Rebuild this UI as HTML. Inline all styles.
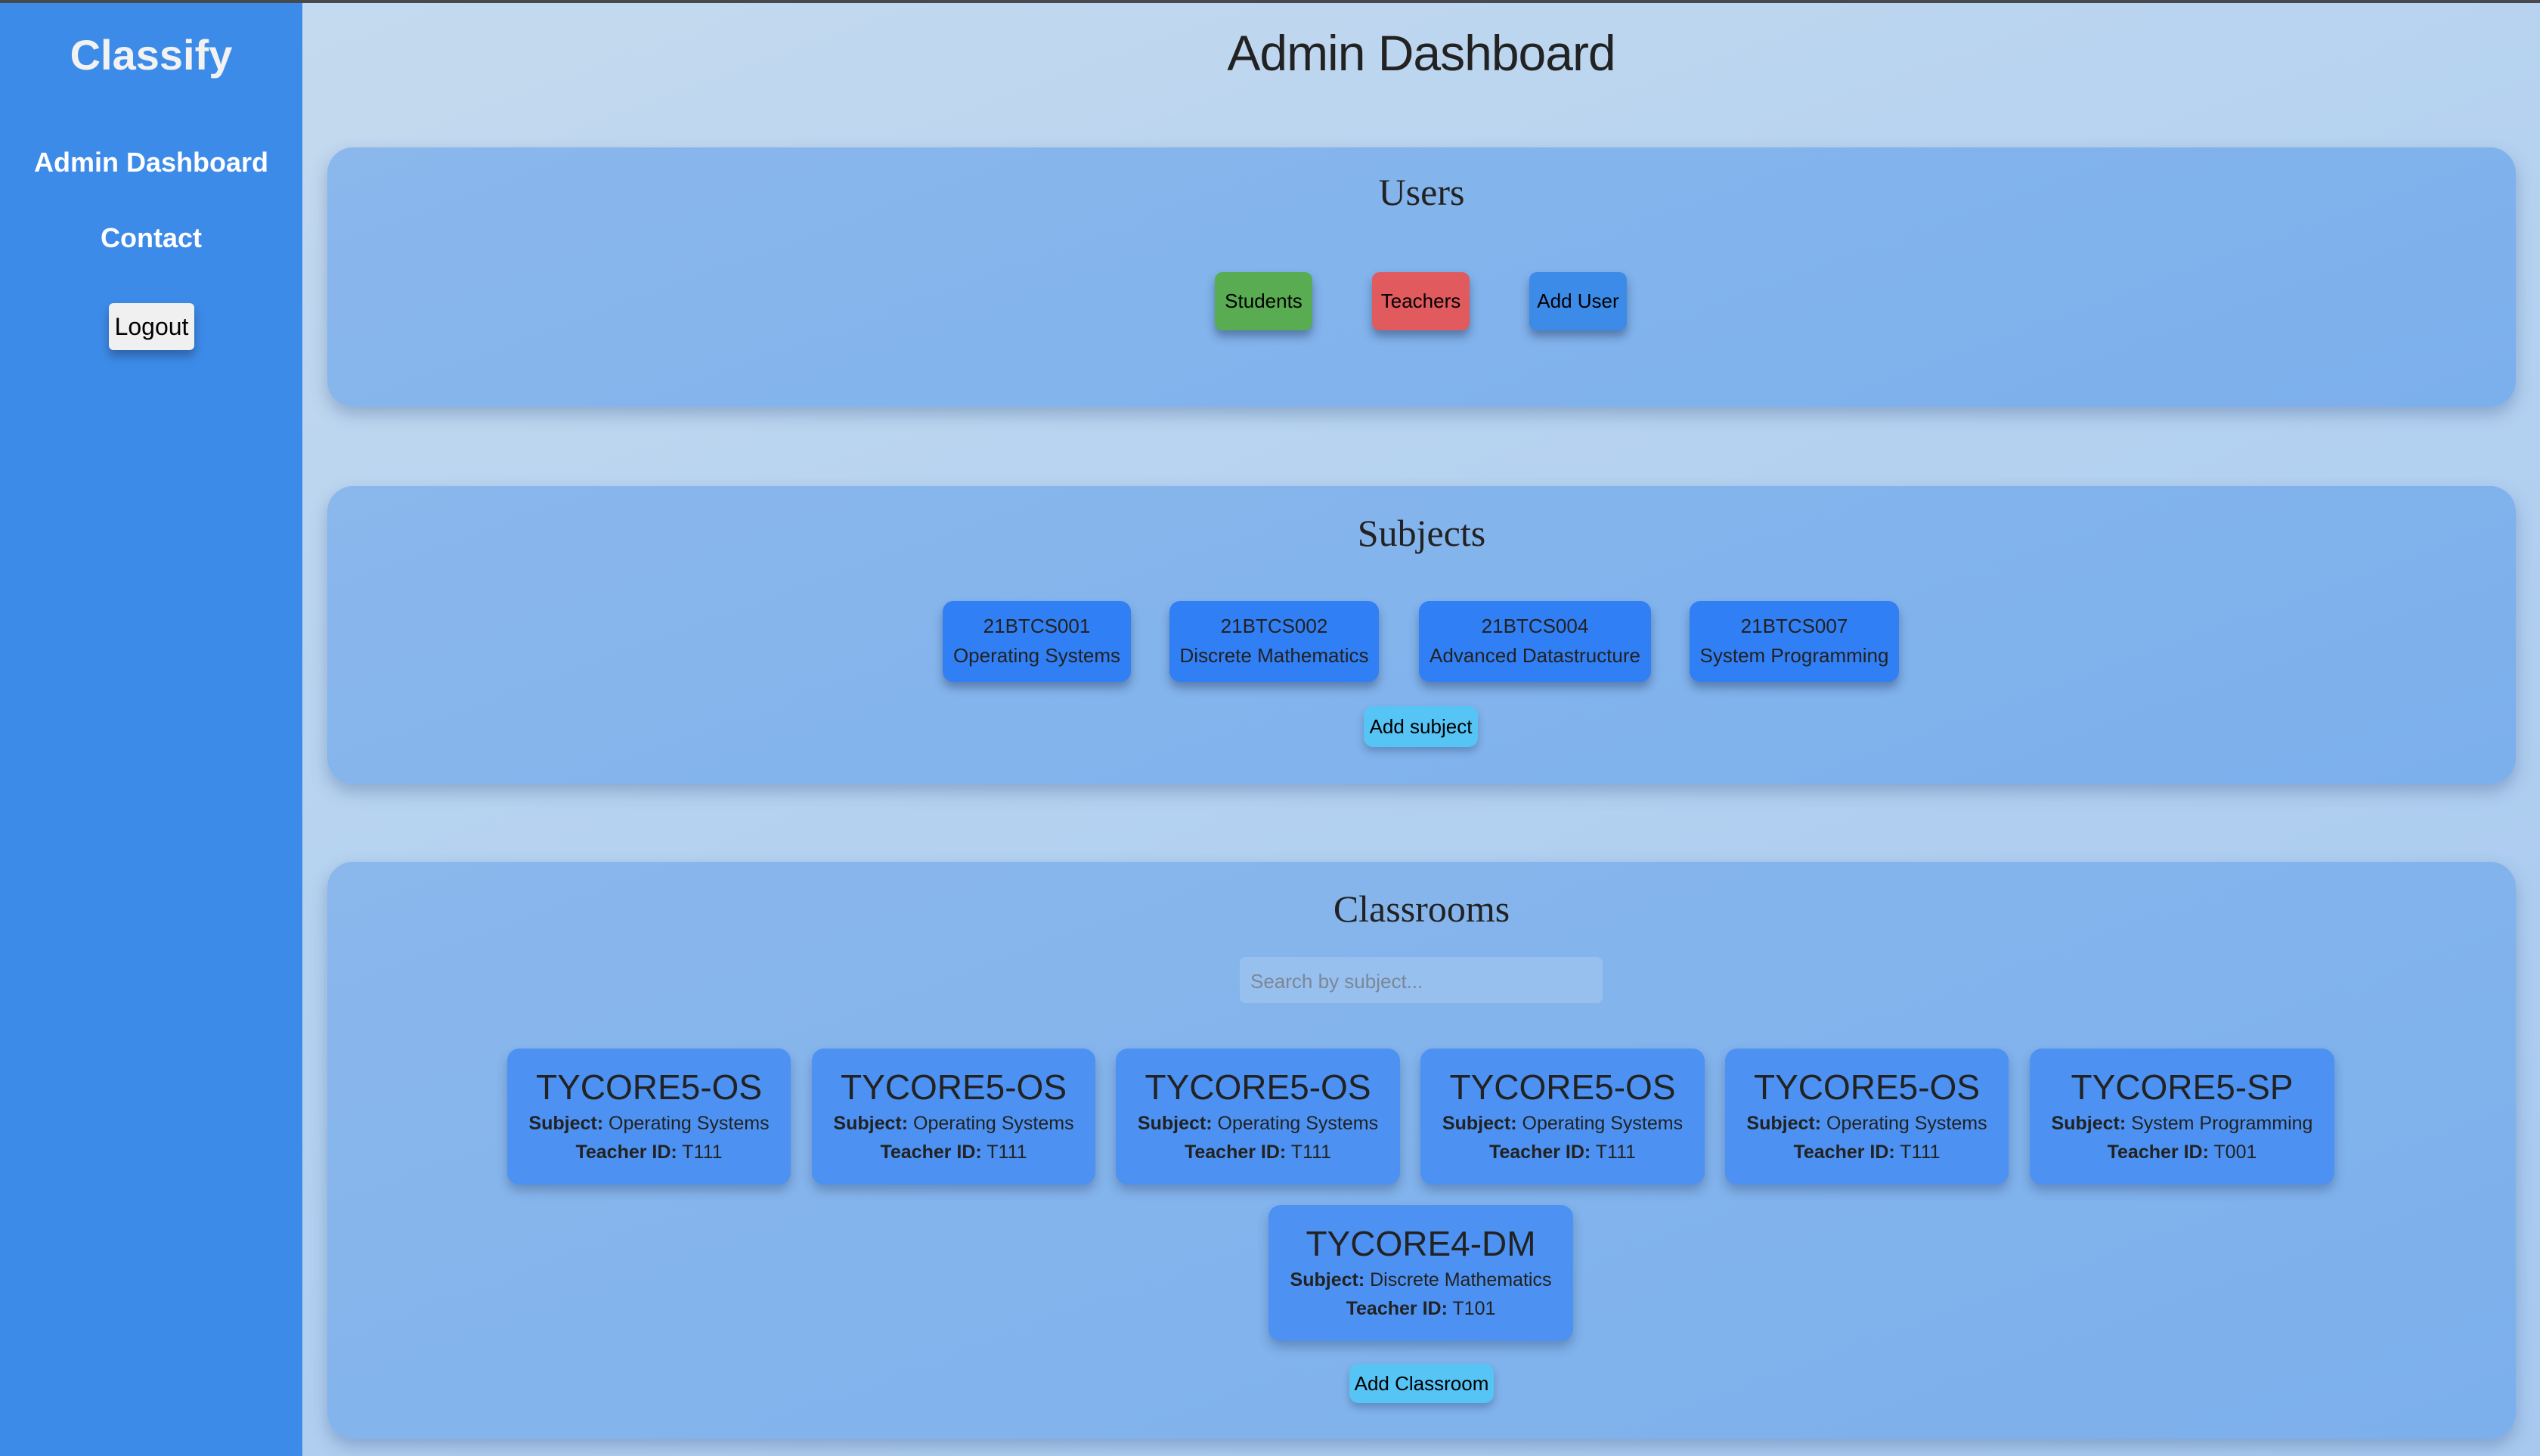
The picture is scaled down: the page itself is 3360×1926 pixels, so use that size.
<!DOCTYPE html>
<html><head><meta charset="utf-8"><style>
*{margin:0;padding:0;box-sizing:border-box}
body{width:3360px;height:1926px;position:relative;overflow:hidden;font-family:"Liberation Sans",Arial,sans-serif;background:linear-gradient(160deg,#c6dbee 0%,#b5d2f0 45%,#a7c9f0 100%)}
.a{position:absolute}
.c{text-align:center}
#top{left:0;top:0;width:3360px;height:4px;background:#464a4f}
#side{left:0;top:4px;width:400px;height:1922px;background:#3d8be8}
.panel{left:433px;width:2895px;border-radius:34px;background:linear-gradient(160deg,#8ab7ec,#7cb0ec);box-shadow:0 10px 22px rgba(60,90,140,.35)}
.ptitle{left:0;width:100%;font-family:"Liberation Serif",serif;font-size:50px;color:#222}
.btn{border-radius:10px;box-shadow:0 8px 12px rgba(30,50,90,.45);color:#000;font-size:26px;display:flex;align-items:center;justify-content:center}
.sub{background:#317ff5;border-radius:14px;box-shadow:0 8px 12px rgba(30,50,90,.4);color:#222;font-size:26px;line-height:39px;padding-top:14px;text-align:center}
.cls{background:#4d92f2;border-radius:16px;box-shadow:0 8px 14px rgba(30,50,90,.3);color:#222;text-align:center;height:180px}
.cls .t{font-size:46px;margin-top:26px;line-height:50px;margin-bottom:4px}
.cls .l{font-size:25px;line-height:38px}
.cls b{font-weight:bold}
</style></head><body>
<div id="top" class="a"></div>
<div id="side" class="a"></div>
<div class="a c" style="left:0;width:400px;top:40px;font-size:56px;font-weight:bold;color:#f2f2f2;">Classify</div>
<div class="a c" style="left:0;width:400px;top:194px;font-size:36px;font-weight:bold;color:#fff;">Admin Dashboard</div>
<div class="a c" style="left:0;width:400px;top:294px;font-size:36px;font-weight:bold;color:#fff;">Contact</div>
<div class="a btn" style="left:144px;top:401px;width:113px;height:62px;background:#f0f0f0;font-size:32px;border-radius:6px">Logout</div>

<div class="a c" style="left:1560px;width:640px;top:32px;font-size:66px;color:#222;letter-spacing:-1px">Admin Dashboard</div>

<div class="a panel" style="top:195px;height:343px">
 <div class="a ptitle c" style="top:30px">Users</div>
</div>
<div class="a btn" style="left:1607px;top:360px;width:129px;height:77px;background:#5aac52">Students</div>
<div class="a btn" style="left:1815px;top:360px;width:129px;height:77px;background:#e05a5e">Teachers</div>
<div class="a btn" style="left:2023px;top:360px;width:129px;height:77px;background:#3d8be8">Add User</div>

<div class="a panel" style="top:643px;height:394px">
 <div class="a ptitle c" style="top:33px">Subjects</div>
</div>
<div class="a sub" style="left:1247px;top:795px;width:249px;height:107px">21BTCS001<br>Operating Systems</div>
<div class="a sub" style="left:1547px;top:795px;width:277px;height:107px">21BTCS002<br>Discrete Mathematics</div>
<div class="a sub" style="left:1877px;top:795px;width:307px;height:107px">21BTCS004<br>Advanced Datastructure</div>
<div class="a sub" style="left:2235px;top:795px;width:277px;height:107px">21BTCS007<br>System Programming</div>
<div class="a btn" style="left:1804px;top:934px;width:151px;height:54px;background:#56c4f5;border-radius:12px;box-shadow:0 6px 10px rgba(30,50,90,.3)">Add subject</div>

<div class="a panel" style="top:1140px;height:763px">
 <div class="a ptitle c" style="top:33px">Classrooms</div>
</div>
<div class="a" style="left:1640px;top:1266px;width:480px;height:61px;background:#98c0ef;border-radius:8px;color:#7b8797;font-size:26px;padding:17px 0 0 14px">Search by subject...</div>

<div class="a cls" style="left:671px;top:1387px;width:375px"><div class="t">TYCORE5-OS</div><div class="l"><b>Subject:</b> Operating Systems</div><div class="l"><b>Teacher ID:</b> T111</div></div>
<div class="a cls" style="left:1074px;top:1387px;width:375px"><div class="t">TYCORE5-OS</div><div class="l"><b>Subject:</b> Operating Systems</div><div class="l"><b>Teacher ID:</b> T111</div></div>
<div class="a cls" style="left:1476px;top:1387px;width:376px"><div class="t">TYCORE5-OS</div><div class="l"><b>Subject:</b> Operating Systems</div><div class="l"><b>Teacher ID:</b> T111</div></div>
<div class="a cls" style="left:1879px;top:1387px;width:376px"><div class="t">TYCORE5-OS</div><div class="l"><b>Subject:</b> Operating Systems</div><div class="l"><b>Teacher ID:</b> T111</div></div>
<div class="a cls" style="left:2282px;top:1387px;width:375px"><div class="t">TYCORE5-OS</div><div class="l"><b>Subject:</b> Operating Systems</div><div class="l"><b>Teacher ID:</b> T111</div></div>
<div class="a cls" style="left:2685px;top:1387px;width:403px"><div class="t">TYCORE5-SP</div><div class="l"><b>Subject:</b> System Programming</div><div class="l"><b>Teacher ID:</b> T001</div></div>
<div class="a cls" style="left:1678px;top:1594px;width:403px"><div class="t">TYCORE4-DM</div><div class="l"><b>Subject:</b> Discrete Mathematics</div><div class="l"><b>Teacher ID:</b> T101</div></div>
<div class="a btn" style="left:1785px;top:1804px;width:191px;height:52px;background:#56c4f5;border-radius:12px;box-shadow:0 6px 10px rgba(30,50,90,.3)">Add Classroom</div>
</body></html>
